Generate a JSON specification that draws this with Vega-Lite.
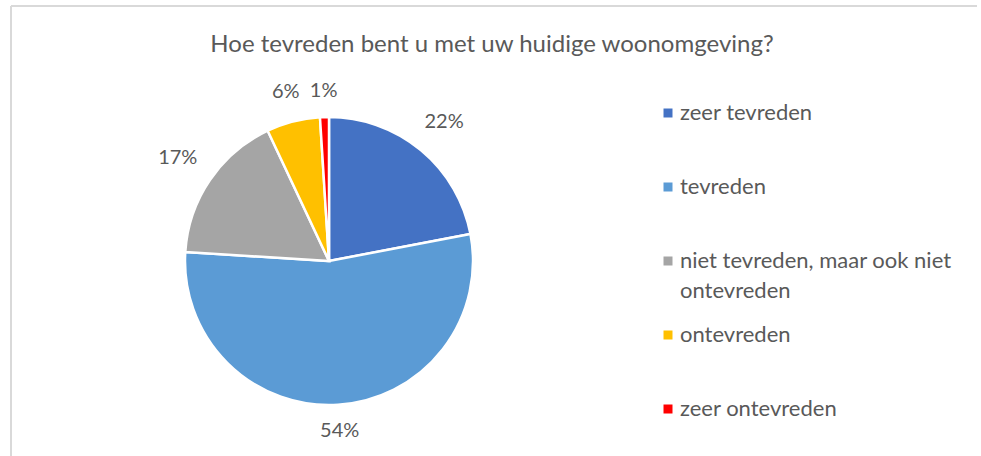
{
  "$schema": "https://vega.github.io/schema/vega-lite/v6.json",
  "autosize": {"type": "none"},
  "width": 966,
  "height": 510,
  "padding": {"left": 11, "top": 6, "right": 4, "bottom": -60},
  "background": "white",
  "config": {
    "view": {"stroke": "#D9D9D9", "strokeWidth": 2, "strokeDash": [966, 1476, 510, 0]},
    "font": "Lato",
    "style": {"guide-label": {"lineHeight": 30}}
  },
  "title": {
    "text": "Hoe tevreden bent u met uw huidige woonomgeving?",
    "font": "Lato",
    "fontSize": 24,
    "fontWeight": "normal",
    "color": "#595959",
    "anchor": "middle",
    "dx": -2,
    "offset": -51
  },
  "data": {
    "values": [
      {"categorie": "zeer tevreden", "aandeel": 0.22, "volgorde": 1},
      {"categorie": "tevreden", "aandeel": 0.54, "volgorde": 2},
      {"categorie": "niet tevreden, maar ook niet ontevreden", "aandeel": 0.17, "volgorde": 3},
      {"categorie": "ontevreden", "aandeel": 0.06, "volgorde": 4},
      {"categorie": "zeer ontevreden", "aandeel": 0.01, "volgorde": 5}
    ]
  },
  "encoding": {
    "x": {"datum": 0.3292, "type": "quantitative", "scale": {"domain": [0, 1]}, "axis": null},
    "y": {"datum": 0.5, "type": "quantitative", "scale": {"domain": [0, 1]}, "axis": null},
    "theta": {"field": "aandeel", "type": "quantitative", "stack": true},
    "order": {"field": "volgorde", "type": "quantitative"}
  },
  "layer": [
    {
      "mark": {"type": "arc", "outerRadius": 144, "stroke": "white", "strokeWidth": 2.5},
      "encoding": {
        "color": {
          "field": "categorie",
          "type": "nominal",
          "sort": null,
          "scale": {
            "domain": ["zeer tevreden", "tevreden", "niet tevreden, maar ook niet ontevreden", "ontevreden", "zeer ontevreden"],
            "range": ["#4472C4", "#5B9BD5", "#A5A5A5", "#FFC000", "#FF0000"]
          },
          "legend": {
            "title": null,
            "orient": "none",
            "legendX": 646,
            "legendY": 96,
            "padding": 0,
            "symbolType": "square",
            "symbolSize": 81,
            "symbolStrokeWidth": 0,
            "labelFont": "Lato",
            "labelFontSize": 22,
            "labelColor": "#595959",
            "labelOffset": 1,
            "labelLimit": 400,
            "labelBaseline": "middle",
            "rowPadding": 22,
            "labelExpr": "datum.label == 'niet tevreden, maar ook niet ontevreden' ? ['niet tevreden, maar ook niet', 'ontevreden'] : [datum.label, '']"
          }
        }
      }
    },
    {
      "mark": {
        "type": "text",
        "radius": {"expr": "161 + 21*abs(sin(scale('theta', (datum.aandeel_start + datum.aandeel_end)/2))) + 8*abs(cos(scale('theta', (datum.aandeel_start + datum.aandeel_end)/2)))"},
        "font": "Lato",
        "fontSize": 20,
        "color": "#595959"
      },
      "encoding": {
        "text": {"field": "aandeel", "type": "quantitative", "format": ".0%"}
      }
    }
  ]
}
